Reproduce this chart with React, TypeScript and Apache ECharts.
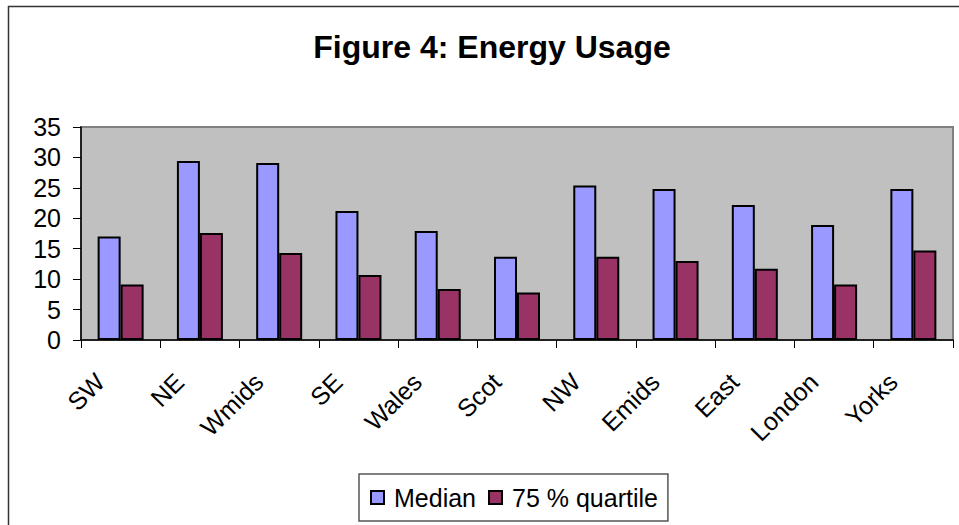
import React, { useEffect, useRef } from "react";
import * as echarts from "echarts";

const categories = ["SW", "NE", "Wmids", "SE", "Wales", "Scot", "NW", "Emids", "East", "London", "Yorks"];
const medianValues = [17.0, 29.4, 29.1, 21.2, 17.9, 13.7, 25.4, 24.8, 22.2, 18.9, 24.8];
const quartileValues = [9.1, 17.6, 14.3, 10.7, 8.4, 7.8, 13.7, 13.0, 11.7, 9.1, 14.7];
const seriesNames = ["Median", "75 % quartile"];
const titleText = "Figure 4: Energy Usage";

const FONT = "'Liberation Sans', Arial, sans-serif";

export default function App() {
  const ref = useRef<HTMLDivElement>(null);
  useEffect(() => {
    if (!ref.current) return;
    const chart = echarts.init(ref.current, null, { renderer: "svg" });
    chart.setOption({
      animation: false,
      backgroundColor: "#ffffff",
      textStyle: { fontFamily: FONT },
      title: {
        text: titleText,
        left: 487,
        top: 26,
        textAlign: "center",
        textStyle: { fontFamily: FONT, fontSize: 32, fontWeight: "bold", color: "#000" },
      },
      graphic: [
        {
          type: "rect",
          shape: { x: 8.5, y: 6.5, width: 1200, height: 1200 },
          style: { fill: "none", stroke: "#333", lineWidth: 1.5 },
          silent: true,
          z: 100,
        },
      ],
      legend: {
        left: 359,
        top: 474,
        orient: "horizontal",
        data: seriesNames,
        itemWidth: 13,
        itemHeight: 13,
        itemGap: 12,
        padding: [11, 10, 11, 11],
        borderColor: "#555",
        borderWidth: 1.5,
        icon: "rect",
        textStyle: { fontFamily: FONT, fontSize: 25, color: "#000", lineHeight: 25, padding: [0, 0, 0, 5] },
      },
      grid: {
        left: 81,
        right: 6,
        top: 127,
        bottom: 185,
        show: true,
        backgroundColor: "#C0C0C0",
        borderColor: "#808080",
        borderWidth: 2,
        containLabel: false,
      },
      xAxis: {
        type: "category",
        data: categories,
        boundaryGap: true,
        axisLine: { show: true, lineStyle: { color: "#000", width: 1.5 } },
        axisTick: { show: true, length: 8, alignWithLabel: false, lineStyle: { color: "#000", width: 1 } },
        axisLabel: {
          rotate: 45,
          interval: 0,
          margin: 17,
          padding: [0, 29, 0, 0],
          fontFamily: FONT,
          fontSize: 25,
          color: "#000",
        },
        splitLine: { show: false },
      },
      yAxis: {
        type: "value",
        min: 0,
        max: 35,
        interval: 5,
        axisLine: { show: true, lineStyle: { color: "#000", width: 1.5 } },
        axisTick: { show: true, length: 8, lineStyle: { color: "#000", width: 1 } },
        axisLabel: { margin: 20, fontFamily: FONT, fontSize: 25, color: "#000", padding: [0, 0, 5, 0] },
        splitLine: { show: false },
      },
      series: [
        {
          name: seriesNames[0],
          type: "bar",
          data: medianValues,
          barWidth: 23,
          barGap: "0%",
          itemStyle: { color: "#9999FF", borderColor: "#000", borderWidth: 2 },
        },
        {
          name: seriesNames[1],
          type: "bar",
          data: quartileValues,
          barWidth: 23,
          barGap: "0%",
          itemStyle: { color: "#993366", borderColor: "#000", borderWidth: 2 },
        },
      ],
    });
    return () => chart.dispose();
  }, []);
  return (
    <div
      ref={ref}
      style={{ position: "absolute", left: 0, top: 0, width: 959, height: 525 }}
    />
  );
}
